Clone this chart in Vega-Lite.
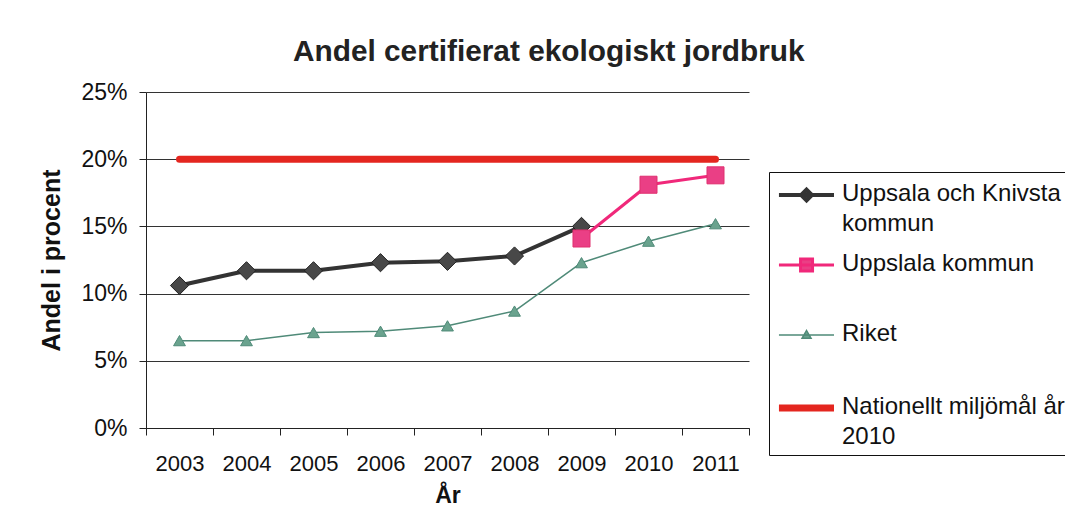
{
  "$schema": "https://vega.github.io/schema/vega-lite/v6.json",
  "width": 603,
  "height": 336,
  "autosize": {"type": "none"},
  "padding": {"left": 146, "top": 92, "right": 316, "bottom": 83},
  "background": "white",
  "config": {
    "font": "Liberation Sans",
    "view": {"stroke": null},
    "axis": {"labelColor": "#111", "titleColor": "#111", "domainColor": "#222", "tickColor": "#222", "gridColor": "#333", "gridOpacity": 1, "gridWidth": 1}
  },
  "title": {
    "text": "Andel certifierat ekologiskt jordbruk",
    "fontSize": 29.8,
    "fontWeight": "bold",
    "color": "#222",
    "anchor": "start",
    "frame": "group",
    "dx": 147,
    "offset": 14
  },
  "data": {
    "values": [
      {"series": "Nationellt miljömål år 2010", "year": "2003", "value": 0.20},
      {"series": "Nationellt miljömål år 2010", "year": "2004", "value": 0.20},
      {"series": "Nationellt miljömål år 2010", "year": "2005", "value": 0.20},
      {"series": "Nationellt miljömål år 2010", "year": "2006", "value": 0.20},
      {"series": "Nationellt miljömål år 2010", "year": "2007", "value": 0.20},
      {"series": "Nationellt miljömål år 2010", "year": "2008", "value": 0.20},
      {"series": "Nationellt miljömål år 2010", "year": "2009", "value": 0.20},
      {"series": "Nationellt miljömål år 2010", "year": "2010", "value": 0.20},
      {"series": "Nationellt miljömål år 2010", "year": "2011", "value": 0.20},
      {"series": "Riket", "year": "2003", "value": 0.065},
      {"series": "Riket", "year": "2004", "value": 0.065},
      {"series": "Riket", "year": "2005", "value": 0.071},
      {"series": "Riket", "year": "2006", "value": 0.072},
      {"series": "Riket", "year": "2007", "value": 0.076},
      {"series": "Riket", "year": "2008", "value": 0.087},
      {"series": "Riket", "year": "2009", "value": 0.123},
      {"series": "Riket", "year": "2010", "value": 0.139},
      {"series": "Riket", "year": "2011", "value": 0.152},
      {"series": "Uppsala och Knivsta kommun", "year": "2003", "value": 0.106},
      {"series": "Uppsala och Knivsta kommun", "year": "2004", "value": 0.117},
      {"series": "Uppsala och Knivsta kommun", "year": "2005", "value": 0.117},
      {"series": "Uppsala och Knivsta kommun", "year": "2006", "value": 0.123},
      {"series": "Uppsala och Knivsta kommun", "year": "2007", "value": 0.124},
      {"series": "Uppsala och Knivsta kommun", "year": "2008", "value": 0.128},
      {"series": "Uppsala och Knivsta kommun", "year": "2009", "value": 0.150},
      {"series": "Uppslala kommun", "year": "2009", "value": 0.141},
      {"series": "Uppslala kommun", "year": "2010", "value": 0.181},
      {"series": "Uppslala kommun", "year": "2011", "value": 0.188}
    ]
  },
  "encoding": {
    "x": {
      "field": "year",
      "type": "ordinal",
      "scale": {"type": "band", "paddingInner": 0, "paddingOuter": 0},
      "axis": {
        "title": "År",
        "titleFontSize": 23,
        "titleFontWeight": "bold",
        "titlePadding": 10,
        "labelFontSize": 22,
        "labelAngle": 0,
        "labelPadding": 18,
        "tickBand": "extent",
        "tickSize": 7,
        "grid": false
      }
    },
    "y": {
      "field": "value",
      "type": "quantitative",
      "scale": {"domain": [0, 0.25], "nice": false, "zero": true},
      "axis": {
        "title": "Andel i procent",
        "titleFontSize": 25,
        "titleFontWeight": "bold",
        "titlePadding": 16,
        "labelFontSize": 23,
        "labelPadding": 12,
        "tickSize": 7,
        "values": [0, 0.05, 0.1, 0.15, 0.2, 0.25],
        "format": ".0%",
        "grid": true
      }
    }
  },
  "layer": [
    {
      "mark": {"type": "line", "strokeCap": "round", "strokeJoin": "round"},
      "encoding": {
        "color": {
          "field": "series",
          "type": "nominal",
          "scale": {
            "domain": ["Uppsala och Knivsta kommun", "Uppslala kommun", "Riket", "Nationellt miljömål år 2010"],
            "range": ["#333333", "#f0287a", "#4f8a78", "#e4261f"]
          },
          "legend": {
            "title": null,
            "orient": "none",
            "legendX": 623,
            "legendY": 80,
            "strokeColor": "#111",
            "padding": 6,
            "labelFontSize": 24,
            "labelColor": "#111",
            "labelLimit": 500,
            "labelOffset": 30,
            "labelBaseline": "top",
            "symbolSize": 900,
            "rowPadding": 11.5,
            "gridAlign": "all",
            "labelExpr": "datum.label == 'Uppsala och Knivsta kommun' ? ['Uppsala och Knivsta', 'kommun'] : datum.label == 'Nationellt miljömål år 2010' ? ['Nationellt miljömål år', '2010'] : datum.label",
            "encode": {
              "symbols": {
                "update": {
                  "shape": {"signal": "datum.value === 'Uppsala och Knivsta kommun' ? 'M-0.97,0L2.7,0M0.87,-0.36L1.23,0L0.87,0.36L0.51,0Z' : datum.value === 'Uppslala kommun' ? 'M-0.97,0L2.7,0M0.47,-0.4L1.27,-0.4L1.27,0.4L0.47,0.4Z' : datum.value === 'Riket' ? 'M-0.97,0L2.7,0M0.87,-0.3L1.17,0.22L0.57,0.22Z' : 'M-0.97,0L2.7,0'"},
                  "fill": {"signal": "datum.value === 'Uppsala och Knivsta kommun' ? '#444444' : datum.value === 'Uppslala kommun' ? '#ea3f85' : datum.value === 'Riket' ? '#6aa38e' : 'transparent'"},
                  "stroke": {"signal": "datum.value === 'Uppsala och Knivsta kommun' ? '#333333' : datum.value === 'Uppslala kommun' ? '#f0287a' : datum.value === 'Riket' ? '#4f8a78' : '#e4261f'"},
                  "strokeWidth": {"signal": "datum.value === 'Uppsala och Knivsta kommun' ? 2.5 : datum.value === 'Uppslala kommun' ? 3 : datum.value === 'Riket' ? 1.5 : 6"},
                  "opacity": {"value": 1}
                }
              },
              "labels": {"update": {"dy": {"value": -13.5}, "lineHeight": {"value": 30}}}
            }
          }
        },
        "strokeWidth": {
          "field": "series",
          "type": "nominal",
          "scale": {
            "type": "ordinal",
            "domain": ["Uppsala och Knivsta kommun", "Uppslala kommun", "Riket", "Nationellt miljömål år 2010"],
            "range": [4, 3, 1.5, 7]
          },
          "legend": null
        }
      }
    },
    {
      "transform": [{"filter": "datum.series !== 'Nationellt miljömål år 2010'"}],
      "mark": {"type": "point", "filled": true, "opacity": 1, "strokeWidth": 1},
      "encoding": {
        "color": {"field": "series", "type": "nominal"},
        "fill": {
          "field": "series",
          "type": "nominal",
          "scale": {
            "domain": ["Uppsala och Knivsta kommun", "Uppslala kommun", "Riket"],
            "range": ["#484848", "#ea3f85", "#6aa38e"]
          },
          "legend": null
        },
        "stroke": {
          "field": "series",
          "type": "nominal",
          "scale": {
            "domain": ["Uppsala och Knivsta kommun", "Uppslala kommun", "Riket"],
            "range": ["#222222", "#e0306f", "#4f8a78"]
          },
          "legend": null
        },
        "shape": {
          "field": "series",
          "type": "nominal",
          "scale": {
            "domain": ["Uppsala och Knivsta kommun", "Uppslala kommun", "Riket"],
            "range": ["diamond", "square", "triangle-up"]
          },
          "legend": null
        },
        "size": {
          "field": "series",
          "type": "nominal",
          "scale": {
            "type": "ordinal",
            "domain": ["Uppsala och Knivsta kommun", "Uppslala kommun", "Riket"],
            "range": [330, 290, 140]
          },
          "legend": null
        }
      }
    }
  ]
}
